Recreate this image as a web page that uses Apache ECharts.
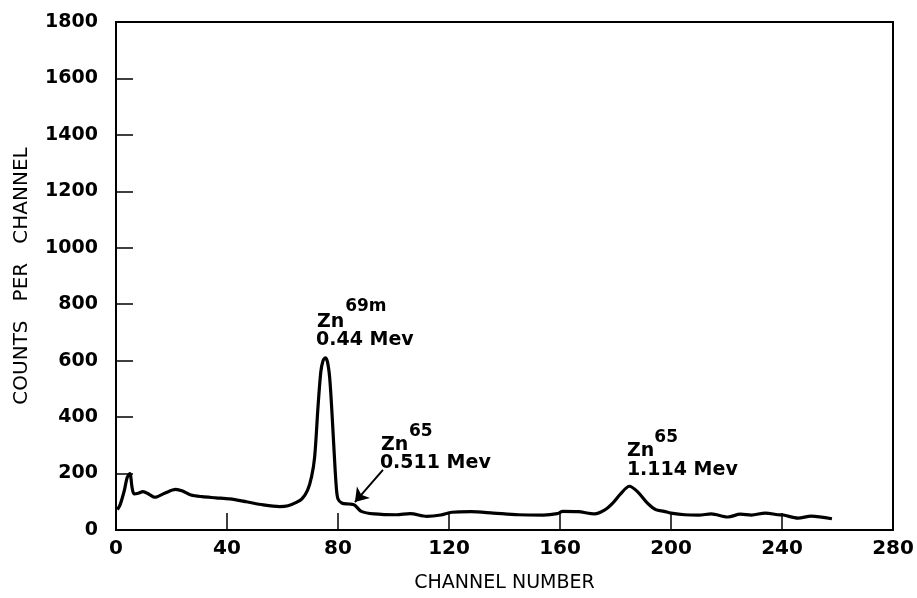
<!DOCTYPE html>
<html>
<head>
<meta charset="utf-8">
<script src="https://cdn.jsdelivr.net/npm/echarts@6/dist/echarts.min.js"></script>
<style>html,body{margin:0;padding:0;background:#fff}#c{width:917px;height:598px}</style>
</head>
<body>
<div id="c"></div>
<script>
// Data
var channels = [0.5,1.5,3,4,5,5.8,6.5,8,9.7,12,14,17.5,21.5,24,27,31,36,41,47,53,59,62,65,67,69,70.5,71.6,72.8,73.8,74.6,75.4,76.2,77,77.8,78.7,79.4,80,81.5,84,86,88.4,93,101,106,112,117,121,128,136,145,154,159,161,166.5,172.5,176,179,182,185,188,191.5,194.5,197.5,200,205,210,214.5,220.5,225,229,234,238.5,240.5,245.8,250.5,258];
var counts   = [72,90,140,185,200,150,128,130,136,126,116,130,144,138,124,118,114,110,100,89,83,86,98,110,140,190,260,437,560,600,610,596,540,420,260,150,110,95,92,88,66,57,54,58,48,53,63,65,60,54,53,58,66,65,57,70,95,130,155,135,95,72,66,60,54,53,57,46,56,53,60,54,53,42,49,40];
var xTicks = [0,40,80,120,160,200,240,280];
var yTicks = [0,200,400,600,800,1000,1200,1400,1600,1800];
// annotation texts anchored in data coordinates [channel, counts]
var annoTexts = [
  {t:'Zn', at:[72.4,738], size:19},
  {t:'69m', at:[82.6,790], size:17},
  {t:'0.44 Mev', at:[72.1,673], size:19},
  {t:'Zn', at:[95.5,302], size:19},
  {t:'65', at:[105.6,349], size:17},
  {t:'0.511 Mev', at:[95.1,237], size:19},
  {t:'Zn', at:[184.1,281], size:19},
  {t:'65', at:[194,328], size:17},
  {t:'1.114 Mev', at:[184.1,213], size:19}
];
var arrowFrom = [96.2,213], arrowTo = [86.1,99];

var FONT = 'DejaVu Sans';
var chart = echarts.init(document.getElementById('c'));
var pts = channels.map(function(c,i){return [c,counts[i]];});
chart.setOption({
  animation:false,
  backgroundColor:'#fff',
  grid:{left:116,right:24,top:22,bottom:68,show:true,borderColor:'#000',borderWidth:2,backgroundColor:'transparent'},
  xAxis:{type:'value',min:xTicks[0],max:xTicks[xTicks.length-1],interval:40,
    name:'CHANNEL NUMBER',nameLocation:'middle',nameGap:44,
    nameTextStyle:{fontFamily:FONT,fontSize:19,color:'#000'},
    axisLine:{show:true,lineStyle:{color:'#000',width:2}},
    axisTick:{show:true,inside:true,length:17,lineStyle:{color:'#000',width:1.5}},
    axisLabel:{fontFamily:FONT,fontSize:20,fontWeight:'bold',color:'#000',margin:9,formatter:function(v){return String(v);}},
    splitLine:{show:false}},
  yAxis:{type:'value',min:yTicks[0],max:yTicks[yTicks.length-1],interval:200,
    name:'COUNTS   PER   CHANNEL',nameLocation:'middle',nameGap:84,nameRotate:90,
    nameTextStyle:{fontFamily:FONT,fontSize:20,color:'#000'},
    axisLine:{show:true,lineStyle:{color:'#000',width:2}},
    axisTick:{show:true,inside:true,length:17,lineStyle:{color:'#000',width:1.5}},
    axisLabel:{fontFamily:FONT,fontSize:19,fontWeight:'bold',color:'#000',margin:18,formatter:function(v){return String(v);}},
    splitLine:{show:false}},
  series:[{type:'line',data:pts,smooth:0.3,symbol:'none',
    lineStyle:{color:'#000',width:3.2},
    markLine:{silent:true,symbol:['none','arrow'],symbolSize:13,
      lineStyle:{color:'#000',width:2,type:'solid'},label:{show:false},
      data:[[{coord:arrowFrom},{coord:arrowTo}]]}}]
});
var g = annoTexts.map(function(a){
  var p = chart.convertToPixel({gridIndex:0}, a.at);
  return {type:'text',x:p[0],y:p[1],style:{text:a.t,fontFamily:FONT,fontSize:a.size,fontWeight:'bold',fill:'#000',verticalAlign:'middle',align:'left'}};
});
chart.setOption({graphic:g});
</script>
</body>
</html>
